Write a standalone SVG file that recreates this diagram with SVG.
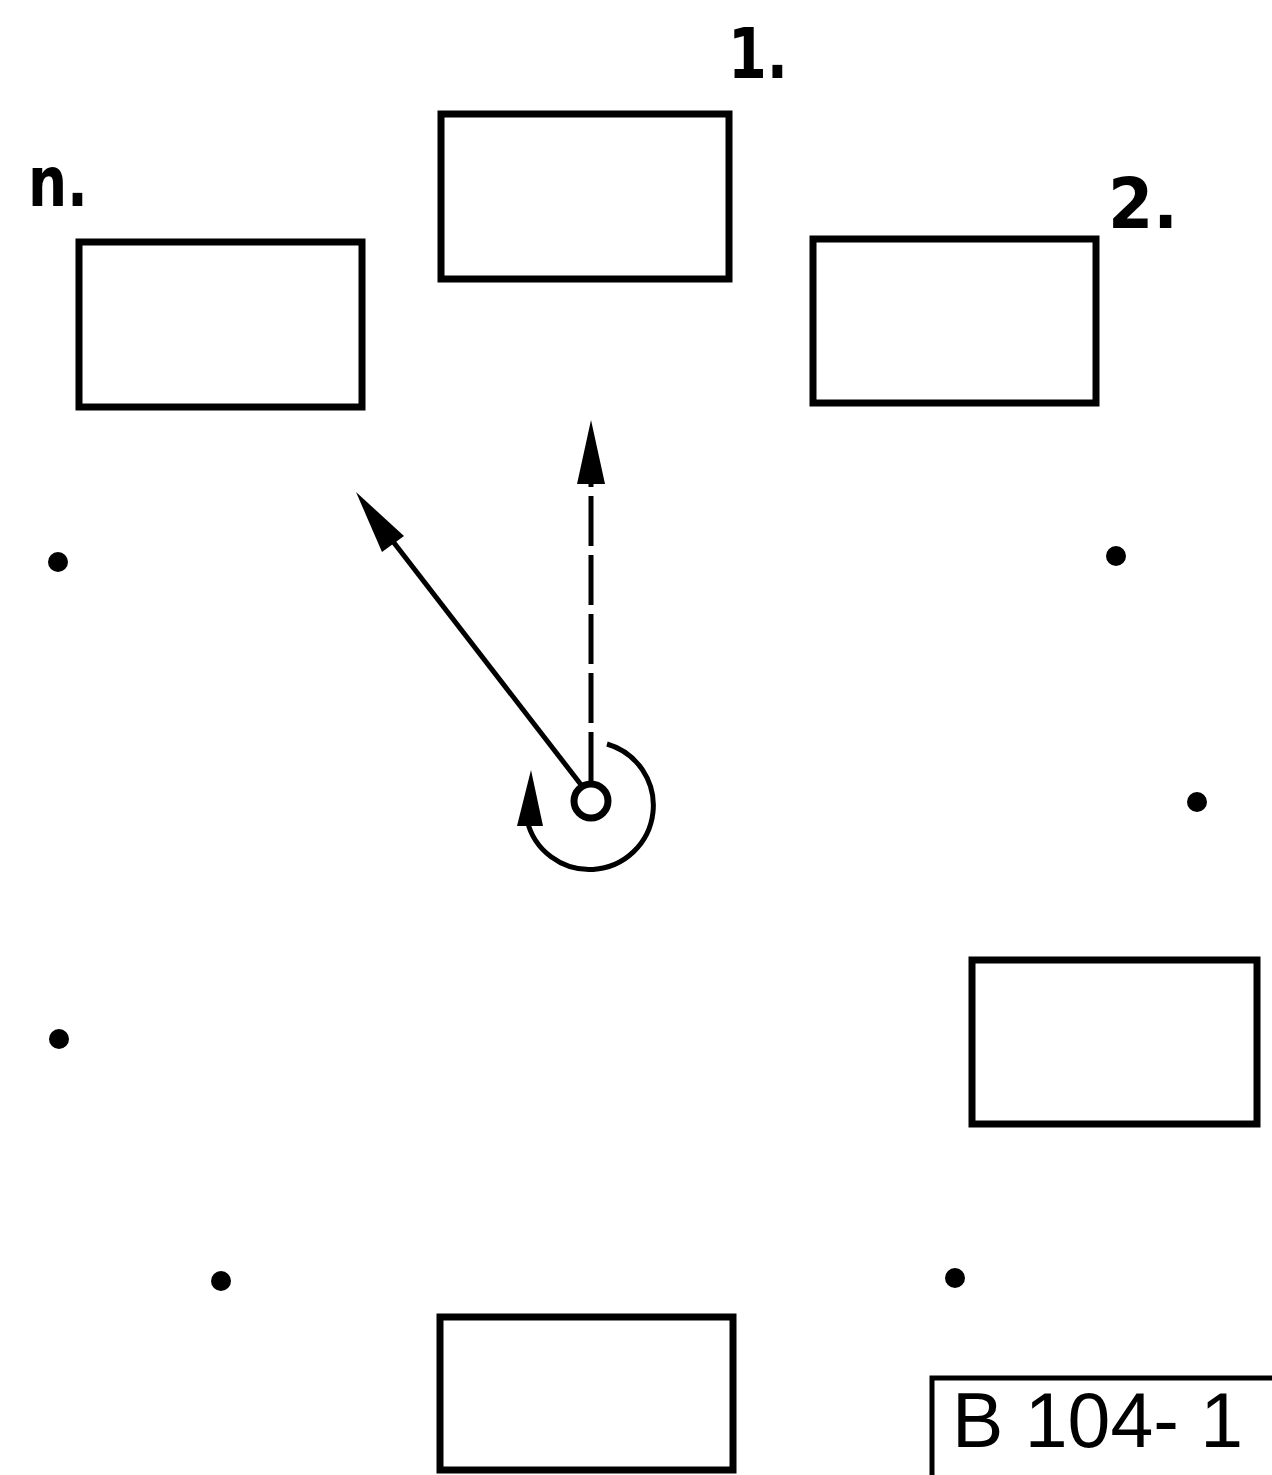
<svg xmlns="http://www.w3.org/2000/svg" width="1272" height="1475" viewBox="0 0 1272 1475">
<style>
.box{fill:none;stroke:#000;stroke-width:7}
.dot{fill:#000}
.lbl{font-family:"DejaVu Sans","Liberation Sans",sans-serif;fill:#000;font-weight:bold}
.ln{fill:none;stroke:#000;stroke-width:5}
.head{fill:#000}
</style>
<rect width="1272" height="1475" fill="#fff"/>
<g id="node-1"><rect class="box" x="441" y="114" width="288" height="165"/></g>
<g id="node-n"><rect class="box" x="79" y="242" width="283" height="165"/></g>
<g id="node-2"><rect class="box" x="813" y="239" width="283" height="164"/></g>
<g id="node-right"><rect class="box" x="972" y="960" width="285" height="164"/></g>
<g id="node-bottom"><rect class="box" x="440" y="1317" width="293" height="153"/></g>
<g id="labels">
<text class="lbl" x="728" y="78" font-size="70" textLength="60" lengthAdjust="spacingAndGlyphs">1.</text>
<text class="lbl" x="28" y="206" font-size="70" textLength="60" lengthAdjust="spacingAndGlyphs">n.</text>
<text class="lbl" x="1108" y="228" font-size="70" textLength="70" lengthAdjust="spacingAndGlyphs">2.</text>
</g>
<g id="dots">
<circle class="dot" cx="58" cy="562" r="10"/>
<circle class="dot" cx="1116" cy="556" r="10"/>
<circle class="dot" cx="1197" cy="802" r="10"/>
<circle class="dot" cx="59" cy="1039" r="10"/>
<circle class="dot" cx="221" cy="1281" r="10"/>
<circle class="dot" cx="955" cy="1278" r="10"/>
</g>
<g id="center">
<circle cx="591" cy="801" r="17" fill="none" stroke="#000" stroke-width="7"/>
<path class="ln" d="M607,744 A64,64 0 1 1 527,820" stroke-width="7"/>
<path class="head" d="M531,770 L517,826 L543,826 Z"/>
</g>
<g id="connectors">
<line class="ln" x1="582" y1="786" x2="388" y2="535"/>
<path class="head" d="M356,492 L404,536 L382,552 Z"/>
<line class="ln" x1="591" y1="782" x2="591" y2="480" stroke-dasharray="50,9"/>
<path class="head" d="M591,420 L605,484 L577,484 Z"/>
</g>
<g id="code">
<rect x="932" y="1378" width="350" height="110" fill="none" stroke="#000" stroke-width="5"/>
<text x="952" y="1447" font-size="77" font-family="'Liberation Sans',Arial,sans-serif">B 104- 1</text>
</g>
</svg>
